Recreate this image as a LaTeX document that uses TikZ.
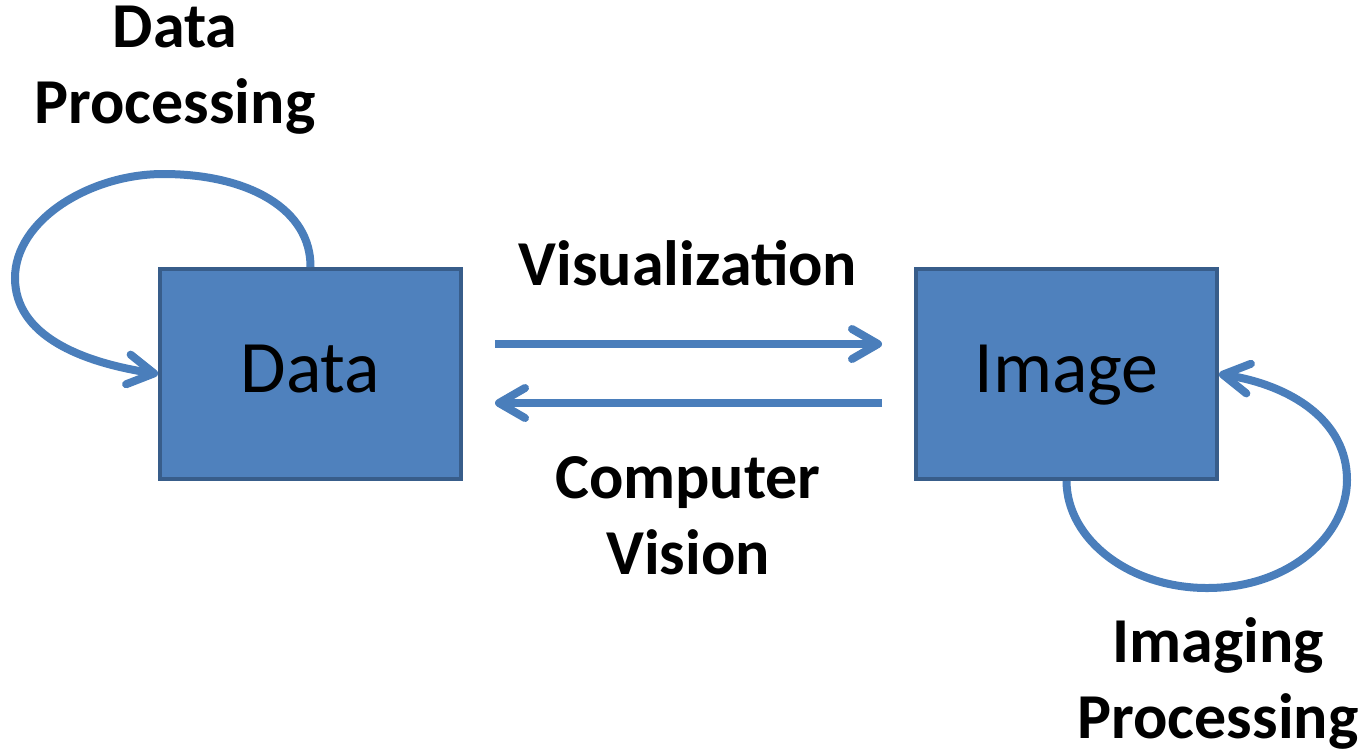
\documentclass[tikz,border=0pt]{standalone}
\usepackage{fontspec}
\setmainfont{Carlito}
\usetikzlibrary{arrows.meta}

\definecolor{boxfill}{HTML}{4F81BD}
\definecolor{boxline}{HTML}{385D8A}
\definecolor{flowblue}{HTML}{4A7EBB}

\tikzset{
  block/.style={draw=boxline, line width=2pt, fill=boxfill, minimum width=150.5pt,
    minimum height=105pt, inner sep=0pt, font=\fontsize{37}{42}\selectfont,
    text height=23.5pt, text depth=5pt},
  flow/.style={draw=flowblue, line width=4pt,
    -{Straight Barb[length=13pt,width=15pt,round]}},
  tag/.style={font=\fontsize{32}{38}\selectfont\bfseries, align=center, inner sep=0pt}
}

\begin{document}
\begin{tikzpicture}[x=0.5pt,y=-0.5pt]
\useasboundingbox (0,0) rectangle (1366,752);

\node[block] (data) at (310.5,374) {Data};
\node[block] (image) at (1066.5,374) {Image};

% two-way link between the boxes
\draw[flow] ([shift={(16pt,15pt)}]data.east) -- ([shift={(-16pt,15pt)}]image.west);
\draw[flow] ([shift={(-16pt,-14.5pt)}]image.west) -- ([shift={(16pt,-14.5pt)}]data.east);

% self loops
\draw[flow] (data.north) .. controls (311,210) and (250,174) .. (163,174)
  .. controls (90,174) and (15,220) .. (15,278)
  .. controls (15,335) and (80,362) .. (data.west);
\draw[flow] (image.south) .. controls (1067,540) and (1130,588) .. (1207,588)
  .. controls (1290,588) and (1347,535) .. (1347,480)
  .. controls (1347,420) and (1290,385) .. (image.east);

\node[tag] (dproc) at (175,70) {Data\\Processing};
\node[tag] (vis) at (688,263) {Visualization};
\node[tag] (cv) at (688,516) {Computer\\Vision};
\node[tag] (iproc) at (1218,683) {Imaging\\Processing};
\end{tikzpicture}
\end{document}
